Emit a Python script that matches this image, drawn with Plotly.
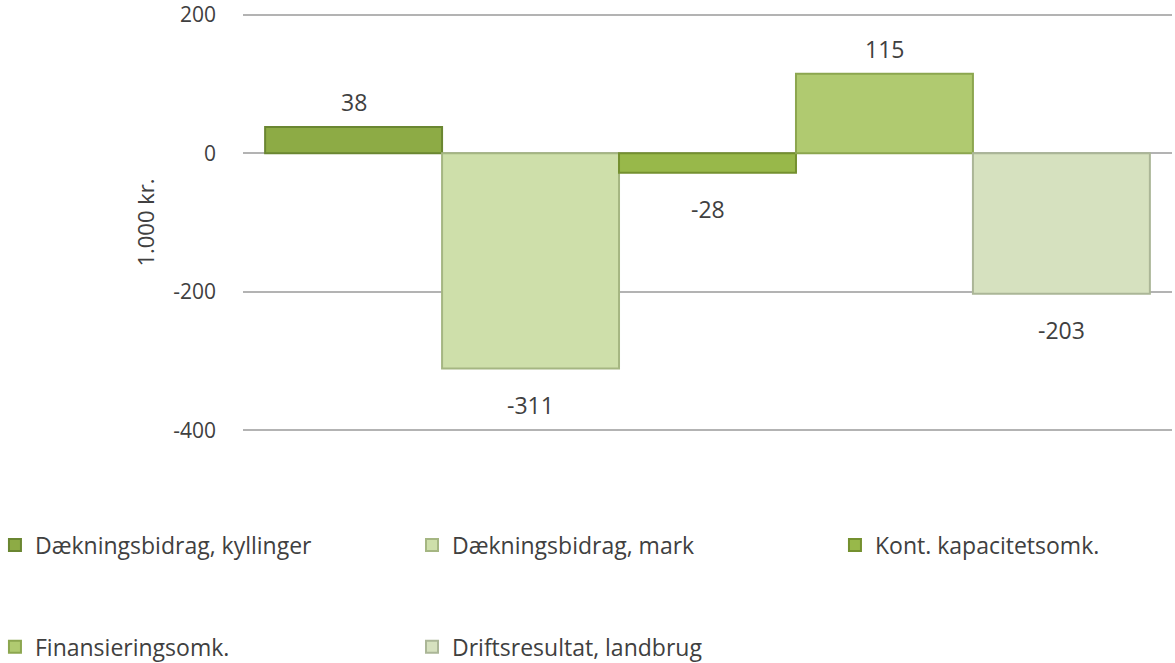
import plotly.graph_objects as go

series_names = [
    "Dækningsbidrag, kyllinger",
    "Dækningsbidrag, mark",
    "Kont. kapacitetsomk.",
    "Finansieringsomk.",
    "Driftsresultat, landbrug",
]
series_values = [38, -311, -28, 115, -203]
y_tick_values = [-400, -200, 0, 200]
y_tick_labels = ["-400", "-200", "0", "200"]

fill_colors = ["#8dab45", "#cedfaa", "#98b84a", "#b0ca70", "#d6e1bf"]
line_colors = ["#6a8631", "#a5b682", "#74902f", "#8ca64f", "#abb697"]

FONT = "Open Sans"
TEXT_COLOR = "#404040"

# legend placement (paper coordinates), one legend per entry: 3 in row one, 2 in row two
legend_x = [-0.267, 0.1819, 0.6372, -0.267, 0.1819]
legend_y = [-0.2663, -0.2663, -0.2663, -0.508, -0.508]
legend_ids = ["legend", "legend2", "legend3", "legend4", "legend5"]

fig = go.Figure()
for i, (name, val) in enumerate(zip(series_names, series_values)):
    fig.add_trace(
        go.Bar(
            x=[i],
            y=[val],
            width=[1.0],
            name=name,
            marker=dict(color=fill_colors[i], line=dict(color=line_colors[i], width=2)),
            legend=legend_ids[i],
            hoverinfo="name+y",
        )
    )
    fig.add_annotation(
        x=i,
        y=val,
        text=str(val),
        showarrow=False,
        yanchor="middle",
        yshift=25 if val >= 0 else -36,
        font=dict(family=FONT, size=23, color=TEXT_COLOR),
    )

legend_layout = {}
for lid, lx, ly in zip(legend_ids, legend_x, legend_y):
    legend_layout[lid] = dict(
        orientation="h",
        x=lx,
        y=ly,
        xanchor="left",
        yanchor="middle",
        itemwidth=30,
        font=dict(family=FONT, size=23, color=TEXT_COLOR),
        bgcolor="rgba(0,0,0,0)",
        itemclick=False,
        itemdoubleclick=False,
    )

fig.update_layout(
    width=1175,
    height=663,
    autosize=False,
    margin=dict(l=243, r=3, t=12, b=230, autoexpand=False),
    paper_bgcolor="white",
    plot_bgcolor="white",
    barmode="overlay",
    showlegend=True,
    xaxis=dict(
        range=[-0.625, 4.625],
        visible=False,
        fixedrange=True,
        automargin=False,
    ),
    yaxis=dict(
        range=[-404, 204],
        tickvals=y_tick_values,
        ticktext=y_tick_labels,
        showgrid=True,
        gridcolor="#b3b3b3",
        gridwidth=2,
        zeroline=False,
        showline=False,
        ticks="",
        automargin=False,
        ticklabelstandoff=26,
        ticklabeloverflow="allow",
        tickfont=dict(family=FONT, size=21, color=TEXT_COLOR),
        title=dict(
            text="1.000 kr.",
            font=dict(family=FONT, size=22, color=TEXT_COLOR),
            standoff=12,
        ),
        fixedrange=True,
    ),
    **legend_layout,
)

fig.write_html(
    "out.html",
    config={"displayModeBar": False},
    post_script="document.body.style.margin='0';document.body.style.overflow='hidden';",
)
